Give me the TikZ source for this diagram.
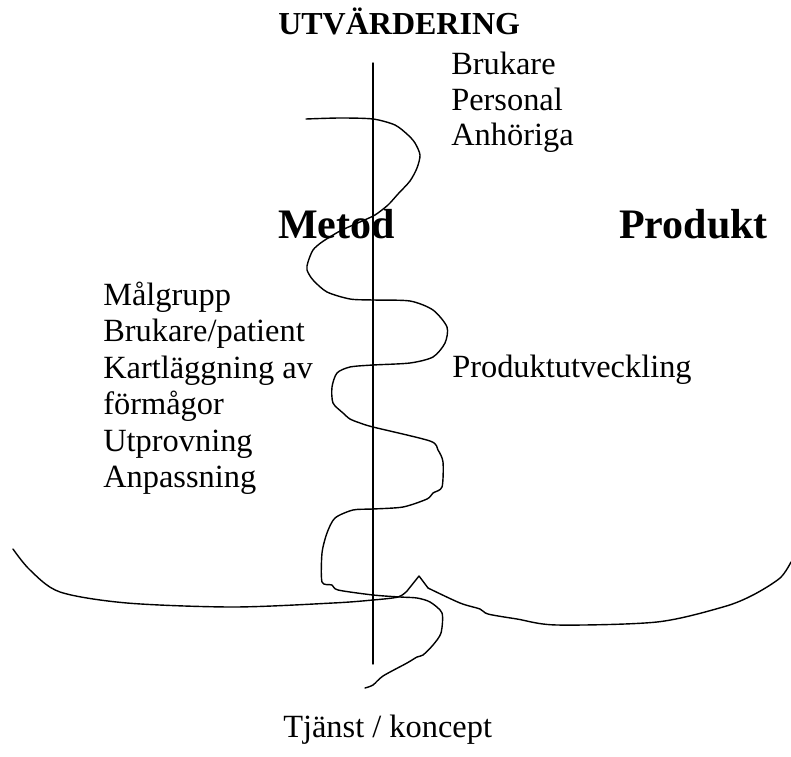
\documentclass[tikz,border=0pt]{standalone}
\usepackage{fontspec}
\setmainfont{Liberation Serif}
\begin{document}
\begin{tikzpicture}[x=0.75pt,y=-0.75pt,
  txt/.style={anchor=base west,inner sep=0pt,font=\fontsize{24.3}{27}\selectfont},
  hd/.style={anchor=base west,inner sep=0pt,font=\fontsize{24}{27}\selectfont\bfseries},
  big/.style={anchor=base west,inner sep=0pt,font=\fontsize{31.5}{36}\selectfont\bfseries},
  stroke/.style={line width=1.05pt,line join=round,line cap=round}]
\useasboundingbox (0,0) rectangle (791,756);
% titles
\node[hd] (utv) at (278,35) {UTVÄRDERING};
\node[big] (metod) at (278,238) {Metod};
\node[big] (produkt) at (619,238) {Produkt};
% right top list
\node[txt] (r1) at (451,75) {Brukare};
\node[txt] (r2) at (451,110.5) {Personal};
\node[txt] (r3) at (451,146) {Anhöriga};
% left list
\node[txt] (l1) at (103,305) {Målgrupp};
\node[txt] (l2) at (103,341.5) {Brukare/patient};
\node[txt] (l3) at (103,378) {Kartläggning av};
\node[txt] (l4) at (103,414.5) {förmågor};
\node[txt] (l5) at (103,451) {Utprovning};
\node[txt] (l6) at (103,487.5) {Anpassning};
\node[txt] (pu) at (452,377) {Produktutveckling};
\node[txt] (tk) at (283,737) {Tjänst / koncept};
% vertical axis
\coordinate (vtop) at (373,63);
\coordinate (vbot) at (373,664);
\draw[stroke] (vtop) -- (vbot);
% spiral
\draw[stroke] plot[smooth,tension=0.45] coordinates {
 (306,119) (340,118) (373,119) (395,125) (408,135) (415,143) (420,155)
 (417,168) (410,181) (398,194) (388,205) (375,215) (360,222) (340,231)
 (322,242) (313,250) (308,262) (307,270) (313,280) (327,292) (350,299)
 (373,300) (410,301) (433,310) (447,327) (445,343) (433,357) (410,363)
 (373,365) (350,367) (337,373) (332,387) (333,403) (343,413) (350,419)
 (360,423) (373,427) (430,441) (438,450) (443,462) (442,487) (433,493)
 (427,499) (403,507) (373,509) (353,510) (335,518) (327,533) (322,553)
 (322,582) (332,585) (338,590) (373,595) (400,597) (417,598) (430,602)
 (442,613) (441,633) (433,645) (423,655) (417,657) (407,663) (383,676)
 (373,685) (365,688)};
% bowl
\coordinate (peak) at (419,576);
\draw[stroke] plot[smooth,tension=0.5] coordinates {
 (13,549) (30,570) (60,592) (127,603) (233,607) (333,603) (373,600)
 (398,597) (407,591)} -- (peak) -- (428,588);
\draw[stroke] plot[smooth,tension=0.5] coordinates {
 (428,588) (460,603) (480,609) (488,614) (517,619) (557,625) (657,622)
 (723,607) (753,595) (780,578) (791,562)};
\end{tikzpicture}
\end{document}
